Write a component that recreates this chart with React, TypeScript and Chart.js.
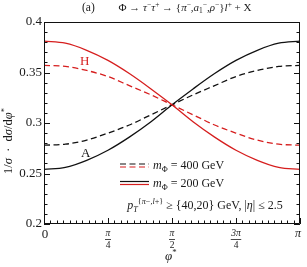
import React, { useEffect, useRef } from "react";
import { Chart, registerables } from "chart.js";

Chart.register(...registerables);

const phi = [0, 0.262, 0.524, 0.785, 1.047, 1.309, 1.571, 1.833, 2.094, 2.356, 2.618, 2.88, 3.142];
const h200 = [0.381, 0.379, 0.372, 0.362, 0.349, 0.334, 0.318, 0.301, 0.286, 0.273, 0.263, 0.256, 0.254];
const a200 = [0.254, 0.256, 0.263, 0.273, 0.286, 0.301, 0.318, 0.334, 0.349, 0.362, 0.372, 0.379, 0.381];
const h400 = [0.357, 0.356, 0.352, 0.346, 0.337, 0.328, 0.318, 0.308, 0.298, 0.29, 0.283, 0.279, 0.278];
const a400 = [0.278, 0.279, 0.283, 0.29, 0.298, 0.308, 0.318, 0.328, 0.337, 0.346, 0.352, 0.356, 0.357];

const xTickValues = [0, Math.PI / 4, Math.PI / 2, (3 * Math.PI) / 4, Math.PI];
const xTickLabels = ["0", "π/4", "π/2", "3π/4", "π"];
const yTickValues = [0.2, 0.25, 0.3, 0.35, 0.4];
const yTickLabels = ["0.2", "0.25", "0.3", "0.35", "0.4"];

const RED = "rgb(214,30,30)";
const BLACK = "#111";
const TEXT = "#1a1a1a";
const FONT = "'Liberation Serif', 'DejaVu Serif', serif";

type Seg = { t: string; i?: boolean; sup?: boolean; sub?: boolean };

function drawRich(ctx: CanvasRenderingContext2D, x: number, y: number, segs: Seg[], size: number, color: string) {
  ctx.save();
  ctx.fillStyle = color;
  ctx.textBaseline = "alphabetic";
  ctx.textAlign = "left";
  let cx = x;
  for (const s of segs) {
    const small = s.sup || s.sub;
    const fs = small ? size * 0.68 : size;
    ctx.font = `${s.i ? "italic " : ""}${fs}px ${FONT}`;
    let dy = 0;
    if (s.sup) dy = -size * 0.4;
    if (s.sub) dy = size * 0.22;
    ctx.fillText(s.t, cx, y + dy);
    cx += ctx.measureText(s.t).width;
  }
  ctx.restore();
  return cx - x;
}

function measureRich(ctx: CanvasRenderingContext2D, segs: Seg[], size: number) {
  ctx.save();
  let w = 0;
  for (const s of segs) {
    const small = s.sup || s.sub;
    ctx.font = `${s.i ? "italic " : ""}${small ? size * 0.68 : size}px ${FONT}`;
    w += ctx.measureText(s.t).width;
  }
  ctx.restore();
  return w;
}

const titleSegs: Seg[] = [
  { t: "Φ → " },
  { t: "τ", i: true },
  { t: "−", sup: true },
  { t: "τ", i: true },
  { t: "+", sup: true },
  { t: " → {" },
  { t: "π", i: true },
  { t: "−", sup: true },
  { t: "," },
  { t: "a", i: true },
  { t: "1", sub: true },
  { t: "−", sup: true },
  { t: "," },
  { t: "ρ", i: true },
  { t: "−", sup: true },
  { t: "}" },
  { t: "l", i: true },
  { t: "+", sup: true },
  { t: " + X" },
];

const cutSegs: Seg[] = [
  { t: "p", i: true },
  { t: "T", i: true, sub: true },
  { t: "{", sup: true },
  { t: "π", i: true, sup: true },
  { t: "−", sup: true },
  { t: ",", sup: true },
  { t: "l", i: true, sup: true },
  { t: "+", sup: true },
  { t: "}", sup: true },
  { t: " ≥ {40,20} GeV, |" },
  { t: "η", i: true },
  { t: "| ≤ 2.5" },
];

const ySegs: Seg[] = [
  { t: "1/" },
  { t: "σ", i: true },
  { t: "  ·  d" },
  { t: "σ", i: true },
  { t: "/d" },
  { t: "φ", i: true },
  { t: "*", sup: true },
];

const decorPlugin = {
  id: "decor",
  afterDraw(chart: any) {
    const ctx: CanvasRenderingContext2D = chart.ctx;
    const { left, right, top, bottom } = chart.chartArea;
    const xs = chart.scales.x;
    const ys = chart.scales.y;
    ctx.save();
    // frame
    ctx.strokeStyle = BLACK;
    ctx.lineWidth = 1;
    ctx.beginPath();
    ctx.rect(Math.round(left) + 0.5, Math.round(top) + 0.5, Math.round(right - left) - 1, Math.round(bottom - top) - 1);
    ctx.stroke();
    // y ticks (left and right, inward)
    ctx.beginPath();
    for (let k = 0; k <= 20; k++) {
      const v = 0.2 + k * 0.01;
      const py = Math.round(ys.getPixelForValue(v)) + 0.5;
      const len = k % 5 === 0 ? 6 : 3.5;
      ctx.moveTo(left, py);
      ctx.lineTo(left + len, py);
      ctx.moveTo(right, py);
      ctx.lineTo(right - len, py);
    }
    // x ticks (bottom, inward)
    for (let k = 0; k <= 40; k++) {
      const v = (k * Math.PI) / 40;
      const px = Math.round(xs.getPixelForValue(v)) + 0.5;
      const len = k % 10 === 0 ? 6 : 3.5;
      ctx.moveTo(px, bottom);
      ctx.lineTo(px, bottom - len);
    }
    ctx.stroke();

    // x tick labels
    ctx.fillStyle = TEXT;
    ctx.textAlign = "center";
    ctx.textBaseline = "middle";
    xTickValues.forEach((v, idx) => {
      const px = xs.getPixelForValue(v);
      const lab = xTickLabels[idx];
      if (lab.includes("/")) {
        const [num, den] = lab.split("/");
        ctx.font = `italic 9.5px ${FONT}`;
        ctx.fillText(num, px, bottom + 9);
        const w = Math.max(ctx.measureText(num).width + 1, 6);
        ctx.font = `9.5px ${FONT}`;
        ctx.fillText(den, px, bottom + 21);
        ctx.beginPath();
        ctx.lineWidth = 0.8;
        ctx.strokeStyle = TEXT;
        ctx.moveTo(px - w / 2, bottom + 15.5);
        ctx.lineTo(px + w / 2, bottom + 15.5);
        ctx.stroke();
      } else if (lab === "π") {
        ctx.font = `italic 12px ${FONT}`;
        ctx.fillText(lab, px - 2, bottom + 10);
      } else {
        ctx.font = `13px ${FONT}`;
        ctx.fillText(lab, px + 1, bottom + 11);
      }
    });

    // title
    drawRich(ctx, 82, 11, [{ t: "(a)" }], 11.5, TEXT);
    const tw = measureRich(ctx, titleSegs, 11);
    drawRich(ctx, 185 - tw / 2, 11, titleSegs, 11, TEXT);

    // y title
    ctx.save();
    ctx.translate(12, 141);
    ctx.rotate(-Math.PI / 2);
    const yw = measureRich(ctx, ySegs, 12.5);
    drawRich(ctx, -yw / 2, 0, ySegs, 12.5, TEXT);
    ctx.restore();

    drawRich(ctx, 165, 260, [{ t: "φ", i: true }, { t: "*", sup: true }], 13, TEXT);

    // curve labels
    drawRich(ctx, 80, 65, [{ t: "H" }], 13, RED);
    drawRich(ctx, 81, 157, [{ t: "A" }], 13, BLACK);

    // legend
    ctx.lineWidth = 1.2;
    ctx.setLineDash([6, 3.5]);
    ctx.strokeStyle = BLACK;
    ctx.beginPath();
    ctx.moveTo(120, 164);
    ctx.lineTo(149, 164);
    ctx.stroke();
    ctx.strokeStyle = RED;
    ctx.beginPath();
    ctx.moveTo(120, 167);
    ctx.lineTo(149, 167);
    ctx.stroke();
    ctx.setLineDash([]);
    ctx.strokeStyle = BLACK;
    ctx.beginPath();
    ctx.moveTo(120, 181.5);
    ctx.lineTo(149, 181.5);
    ctx.stroke();
    ctx.strokeStyle = RED;
    ctx.beginPath();
    ctx.moveTo(120, 184.5);
    ctx.lineTo(149, 184.5);
    ctx.stroke();

    const mSegs = (mass: string): Seg[] => [{ t: "m", i: true }, { t: "Φ", sub: true }, { t: ` = ${mass} GeV` }];
    drawRich(ctx, 153, 169, mSegs("400"), 12, TEXT);
    drawRich(ctx, 153, 187, mSegs("200"), 12, TEXT);
    const cw = measureRich(ctx, cutSegs, 12);
    drawRich(ctx, 205 - cw / 2, 209, cutSegs, 12, TEXT);

    ctx.restore();
  },
};

export default function App() {
  const ref = useRef<HTMLCanvasElement | null>(null);
  useEffect(() => {
    document.body.style.margin = "0";
    if (!ref.current) return;
    const mk = (label: string, data: number[], color: string, dashed: boolean) => ({
      label,
      data: phi.map((x, i) => ({ x, y: data[i] })),
      borderColor: color,
      borderWidth: 1.3,
      borderDash: dashed ? [6, 3.5] : [],
      pointRadius: 0,
      fill: false,
      cubicInterpolationMode: "monotone" as const,
    });
    const chart = new Chart(ref.current, {
      type: "line",
      data: {
        datasets: [
          mk("H 400", h400, RED, true),
          mk("A 400", a400, BLACK, true),
          mk("H 200", h200, RED, false),
          mk("A 200", a200, BLACK, false),
        ],
      },
      options: {
        animation: false,
        responsive: false,
        maintainAspectRatio: false,
        devicePixelRatio: 1,
        layout: { padding: { top: 22, right: 7, left: 0, bottom: 0 } },
        plugins: { legend: { display: false }, tooltip: { enabled: false }, title: { display: false } },
        scales: {
          x: {
            type: "linear",
            min: 0,
            max: Math.PI,
            grid: { display: false, drawTicks: false },
            border: { display: false },
            ticks: { display: false },
            afterBuildTicks: (s: any) => {
              s.ticks = xTickValues.map((v) => ({ value: v }));
            },
            afterFit: (s: any) => {
              s.height = 43;
            },
          },
          y: {
            type: "linear",
            min: 0.2,
            max: 0.4,
            grid: { display: false, drawTicks: false },
            border: { display: false },
            ticks: {
              padding: 2,
              color: TEXT,
              font: { family: FONT, size: 13 },
              callback: (v: any) => {
                const i = yTickValues.findIndex((t) => Math.abs(t - Number(v)) < 1e-6);
                return i >= 0 ? yTickLabels[i] : "";
              },
            },
            afterBuildTicks: (s: any) => {
              s.ticks = yTickValues.map((v) => ({ value: v }));
            },
            afterFit: (s: any) => {
              s.width = 44;
            },
          },
        },
      },
      plugins: [decorPlugin],
    });
    return () => chart.destroy();
  }, []);
  return (
    <div style={{ width: 307, height: 267 }}>
      <canvas ref={ref} width={307} height={267} style={{ display: "block" }} />
    </div>
  );
}
